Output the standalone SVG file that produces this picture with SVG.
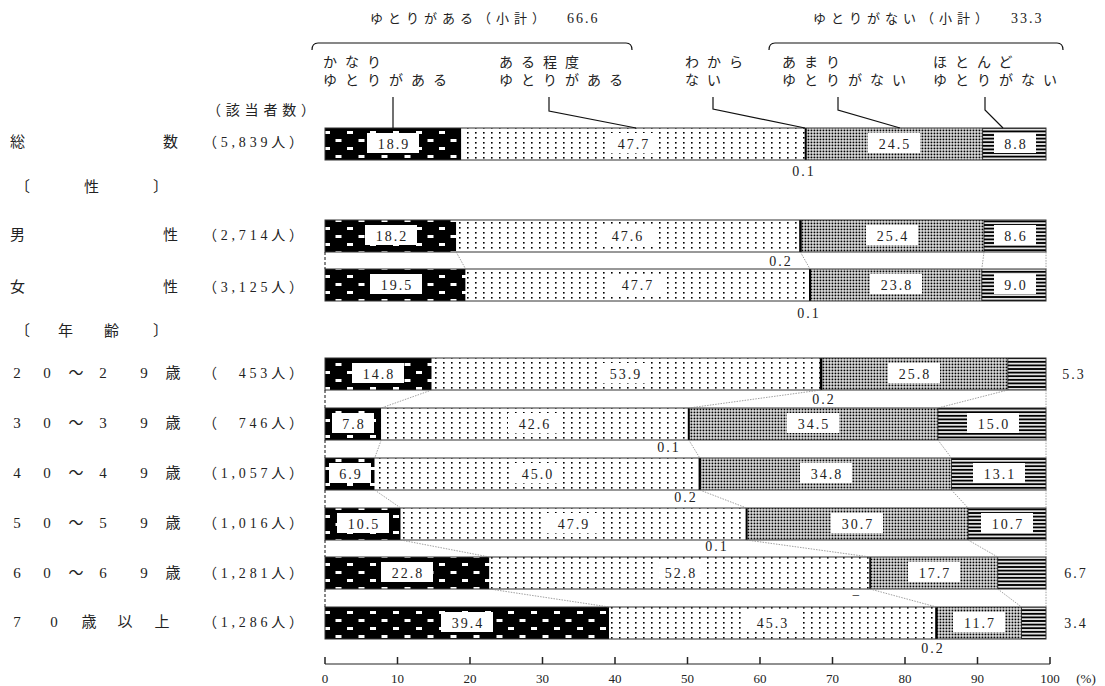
<svg xmlns="http://www.w3.org/2000/svg" width="1105" height="686" viewBox="0 0 1105 686">
<defs>
<pattern id="p1" width="23" height="16" patternUnits="userSpaceOnUse"><rect width="23" height="16" fill="#000"/><rect x="2" y="3" width="6" height="3" fill="#fff"/><rect x="13.5" y="11" width="6" height="3" fill="#fff"/></pattern>
<pattern id="p2" width="8" height="5" patternUnits="userSpaceOnUse"><rect width="8" height="5" fill="#fff"/><rect x="3" y="2" width="1.6" height="1.6" fill="#000"/></pattern>
<pattern id="p3" width="3" height="3" patternUnits="userSpaceOnUse"><rect width="3" height="3" fill="#fff"/><rect x="0.5" y="0.5" width="1.9" height="1.9" fill="#000"/></pattern>
<pattern id="p4" width="4" height="3.6" patternUnits="userSpaceOnUse"><rect width="4" height="3.6" fill="#fff"/><rect y="0.8" width="4" height="2" fill="#000"/></pattern>
</defs>
<style>
.jp{font-family:"Noto Sans CJK JP",sans-serif;font-size:14px;fill:#222}
.lb{font-family:"Noto Sans CJK JP",sans-serif;font-size:14px;letter-spacing:8px;fill:#222}
.hd{font-family:"Noto Sans CJK JP",sans-serif;font-size:13px;letter-spacing:5px;fill:#222}
.hn{font-family:"Liberation Serif",serif;font-size:14px;letter-spacing:2px}
.rl{font-family:"Liberation Serif","Noto Sans CJK JP",serif;font-size:15px;fill:#222;text-anchor:middle}
.cnt{font-family:"Liberation Serif","Noto Sans CJK JP",serif;font-size:14px;fill:#222}
.v{font-family:"Liberation Serif","Noto Sans CJK JP",serif;font-size:14px;letter-spacing:2px;fill:#222;text-anchor:middle}
.ax{font-family:"Liberation Serif",serif;font-size:13px;fill:#222;text-anchor:middle}
.box{fill:#fff}
.ol{fill:none;stroke:#333;stroke-width:1}
.sep{stroke:#111;stroke-width:0.8}
.cg{stroke:#888;stroke-width:0.8;stroke-dasharray:1.5 1.2;fill:none}
.cl{stroke:#111;stroke-width:1;stroke-dasharray:3 2;fill:none}
.ld{stroke:#111;stroke-width:1.2;fill:none}
</style>
<rect width="1105" height="686" fill="#fff"/>

<g id="header">
<text class="hd" x="370" y="23">ゆとりがある（小計）<tspan class="hn" x="567">66.6</tspan></text>
<text class="hd" x="813" y="23">ゆとりがない（小計）<tspan class="hn" x="1011">33.3</tspan></text>
<path class="ld" d="M312,50 Q312,43 318,43 L626,43 Q632,43 632,50"/>
<path class="ld" d="M769,50 Q769,43 775,43 L1057,43 Q1063,43 1063,50"/>
</g>
<g id="legend-labels">
<text class="lb" x="323" y="67">かなり</text>
<text class="lb" x="323" y="85">ゆとりがある</text>
<text class="lb" x="499" y="67">ある程度</text>
<text class="lb" x="499" y="85">ゆとりがある</text>
<text class="lb" x="685" y="67">わから</text>
<text class="lb" x="685" y="85">ない</text>
<text class="lb" x="782" y="67">あまり</text>
<text class="lb" x="782" y="85">ゆとりがない</text>
<text class="lb" x="933" y="67">ほとんど</text>
<text class="lb" x="933" y="85">ゆとりがない</text>
</g>

<g id="row-labels">
<text class="jp" x="207" y="115" textLength="108" lengthAdjust="spacing">（該当者数）</text>
<text class="jp" x="10" y="147" style="font-size:15px">総</text>
<text class="jp" x="163" y="147" style="font-size:15px">数</text>
<text class="cnt" x="203" y="147" textLength="100" lengthAdjust="spacing">（5,839人）</text>
<text class="jp" x="15" y="192" style="font-size:15px">〔</text>
<text class="jp" x="84" y="192" style="font-size:15px">性</text>
<text class="jp" x="153" y="192" style="font-size:15px">〕</text>
<text class="jp" x="10" y="240" style="font-size:15px">男</text>
<text class="jp" x="163" y="240" style="font-size:15px">性</text>
<text class="cnt" x="203" y="240" textLength="100" lengthAdjust="spacing">（2,714人）</text>
<text class="jp" x="10" y="292" style="font-size:15px">女</text>
<text class="jp" x="163" y="292" style="font-size:15px">性</text>
<text class="cnt" x="203" y="292" textLength="100" lengthAdjust="spacing">（3,125人）</text>
<text class="jp" x="15" y="336" style="font-size:15px">〔</text>
<text class="jp" x="58" y="336" style="font-size:15px">年</text>
<text class="jp" x="104" y="336" style="font-size:15px">齢</text>
<text class="jp" x="153" y="336" style="font-size:15px">〕</text>

<text class="rl" x="17" y="378">2</text><text class="rl" x="47" y="378">0</text><text class="rl" x="76" y="378">～</text><text class="rl" x="103" y="378">2</text><text class="rl" x="144" y="378">9</text><text class="rl" x="173" y="378">歳</text>
<text class="cnt" x="203" y="378" textLength="100" lengthAdjust="spacing">（　453人）</text>
<text class="rl" x="17" y="428">3</text><text class="rl" x="47" y="428">0</text><text class="rl" x="76" y="428">～</text><text class="rl" x="103" y="428">3</text><text class="rl" x="144" y="428">9</text><text class="rl" x="173" y="428">歳</text>
<text class="cnt" x="203" y="428" textLength="100" lengthAdjust="spacing">（　746人）</text>
<text class="rl" x="17" y="478">4</text><text class="rl" x="47" y="478">0</text><text class="rl" x="76" y="478">～</text><text class="rl" x="103" y="478">4</text><text class="rl" x="144" y="478">9</text><text class="rl" x="173" y="478">歳</text>
<text class="cnt" x="203" y="478" textLength="100" lengthAdjust="spacing">（1,057人）</text>
<text class="rl" x="17" y="528">5</text><text class="rl" x="47" y="528">0</text><text class="rl" x="76" y="528">～</text><text class="rl" x="103" y="528">5</text><text class="rl" x="144" y="528">9</text><text class="rl" x="173" y="528">歳</text>
<text class="cnt" x="203" y="528" textLength="100" lengthAdjust="spacing">（1,016人）</text>
<text class="rl" x="17" y="578">6</text><text class="rl" x="47" y="578">0</text><text class="rl" x="76" y="578">～</text><text class="rl" x="103" y="578">6</text><text class="rl" x="144" y="578">9</text><text class="rl" x="173" y="578">歳</text>
<text class="cnt" x="203" y="578" textLength="100" lengthAdjust="spacing">（1,281人）</text>
<text class="rl" x="17" y="627">7</text><text class="rl" x="54" y="627">0</text><text class="rl" x="89" y="627">歳</text><text class="rl" x="125" y="627">以</text><text class="rl" x="162" y="627">上</text>
<text class="cnt" x="203" y="627" textLength="100" lengthAdjust="spacing">（1,286人）</text>
</g>

<g id="bar-total">
<rect x="325" y="128" width="136.3" height="32" fill="url(#p1)"/>
<rect x="461.3" y="128" width="343.9" height="32" fill="url(#p2)"/>
<rect x="805.9" y="128" width="176.7" height="32" fill="url(#p3)"/>
<rect x="982.6" y="128" width="63.4" height="32" fill="url(#p4)"/>
<rect x="804.7" y="128" width="2" height="32" fill="#000"/>
<line class="sep" x1="982.6" y1="128" x2="982.6" y2="160"/>
<rect class="ol" x="325" y="128" width="721" height="32"/>
<rect class="box" x="367" y="133" width="52" height="20"/><text class="v" x="394" y="149">18.9</text>
<rect class="box" x="607" y="133" width="52" height="20"/><text class="v" x="634" y="149">47.7</text>
<rect class="box" x="868" y="133" width="52" height="20"/><text class="v" x="895" y="149">24.5</text>
<rect class="box" x="994" y="133" width="42" height="20"/><text class="v" x="1016" y="149">8.8</text>
<text class="v" x="804" y="176">0.1</text>
</g>

<g id="bar-male">
<rect x="325" y="220" width="131.2" height="32" fill="url(#p1)"/>
<rect x="456.2" y="220" width="343.2" height="32" fill="url(#p2)"/>
<rect x="800.9" y="220" width="183.1" height="32" fill="url(#p3)"/>
<rect x="984" y="220" width="62" height="32" fill="url(#p4)"/>
<rect x="799.2" y="220" width="2.5" height="32" fill="#000"/>
<line class="sep" x1="984" y1="220" x2="984" y2="252"/>
<rect class="ol" x="325" y="220" width="721" height="32"/>
<rect class="box" x="365" y="225" width="52" height="20"/><text class="v" x="392" y="241">18.2</text>
<rect class="box" x="601" y="225" width="52" height="20"/><text class="v" x="628" y="241">47.6</text>
<rect class="box" x="866" y="225" width="52" height="20"/><text class="v" x="893" y="241">25.4</text>
<rect class="box" x="994" y="225" width="42" height="20"/><text class="v" x="1016" y="241">8.6</text>
<text class="v" x="781" y="266">0.2</text>
</g>

<g id="bar-female">
<rect x="325" y="269" width="140.6" height="32" fill="url(#p1)"/>
<rect x="465.6" y="269" width="343.9" height="32" fill="url(#p2)"/>
<rect x="810.2" y="269" width="171.6" height="32" fill="url(#p3)"/>
<rect x="981.8" y="269" width="64.2" height="32" fill="url(#p4)"/>
<rect x="809" y="269" width="2" height="32" fill="#000"/>
<line class="sep" x1="981.8" y1="269" x2="981.8" y2="301"/>
<rect class="ol" x="325" y="269" width="721" height="32"/>
<rect class="box" x="370" y="274" width="52" height="20"/><text class="v" x="397" y="290">19.5</text>
<rect class="box" x="611" y="274" width="52" height="20"/><text class="v" x="638" y="290">47.7</text>
<rect class="box" x="870" y="274" width="52" height="20"/><text class="v" x="897" y="290">23.8</text>
<rect class="box" x="994" y="274" width="42" height="20"/><text class="v" x="1016" y="290">9.0</text>
<text class="v" x="809" y="318">0.1</text>
</g>

<g id="bar-20s">
<rect x="325" y="358" width="106.7" height="32" fill="url(#p1)"/>
<rect x="431.7" y="358" width="388.6" height="32" fill="url(#p2)"/>
<rect x="821.8" y="358" width="186" height="32" fill="url(#p3)"/>
<rect x="1007.8" y="358" width="38.2" height="32" fill="url(#p4)"/>
<rect x="819.8" y="358" width="2.5" height="32" fill="#000"/>
<line class="sep" x1="1007.8" y1="358" x2="1007.8" y2="390"/>
<rect class="ol" x="325" y="358" width="721" height="32"/>
<rect class="box" x="352" y="363" width="52" height="20"/><text class="v" x="379" y="379">14.8</text>
<rect class="box" x="599" y="363" width="52" height="20"/><text class="v" x="626" y="379">53.9</text>
<rect class="box" x="888" y="363" width="52" height="20"/><text class="v" x="915" y="379">25.8</text>
<text class="v" x="1074" y="379">5.3</text>
<text class="v" x="824" y="404">0.2</text>
</g>

<g id="bar-30s">
<rect x="325" y="408" width="56.2" height="32" fill="url(#p1)"/>
<rect x="381.2" y="408" width="307.2" height="32" fill="url(#p2)"/>
<rect x="689.1" y="408" width="248.8" height="32" fill="url(#p3)"/>
<rect x="937.9" y="408" width="108.1" height="32" fill="url(#p4)"/>
<rect x="687.8" y="408" width="2" height="32" fill="#000"/>
<line class="sep" x1="937.9" y1="408" x2="937.9" y2="440"/>
<rect class="ol" x="325" y="408" width="721" height="32"/>
<rect class="box" x="332" y="413" width="42" height="20"/><text class="v" x="354" y="429">7.8</text>
<rect class="box" x="508" y="413" width="52" height="20"/><text class="v" x="535" y="429">42.6</text>
<rect class="box" x="787" y="413" width="52" height="20"/><text class="v" x="814" y="429">34.5</text>
<rect class="box" x="967" y="413" width="52" height="20"/><text class="v" x="994" y="429">15.0</text>
<text class="v" x="669" y="452">0.1</text>
</g>

<g id="bar-40s">
<rect x="325" y="458" width="49.7" height="32" fill="url(#p1)"/>
<rect x="374.7" y="458" width="324.5" height="32" fill="url(#p2)"/>
<rect x="700.6" y="458" width="250.9" height="32" fill="url(#p3)"/>
<rect x="951.5" y="458" width="94.5" height="32" fill="url(#p4)"/>
<rect x="698.6" y="458" width="2.5" height="32" fill="#000"/>
<line class="sep" x1="951.5" y1="458" x2="951.5" y2="490"/>
<rect class="ol" x="325" y="458" width="721" height="32"/>
<rect class="box" x="329" y="463" width="42" height="20"/><text class="v" x="351" y="479">6.9</text>
<rect class="box" x="511" y="463" width="52" height="20"/><text class="v" x="538" y="479">45.0</text>
<rect class="box" x="800" y="463" width="52" height="20"/><text class="v" x="827" y="479">34.8</text>
<rect class="box" x="973" y="463" width="52" height="20"/><text class="v" x="1000" y="479">13.1</text>
<text class="v" x="686" y="502">0.2</text>
</g>

<g id="bar-50s">
<rect x="325" y="508" width="75.7" height="32" fill="url(#p1)"/>
<rect x="400.7" y="508" width="345.4" height="32" fill="url(#p2)"/>
<rect x="746.8" y="508" width="221.3" height="32" fill="url(#p3)"/>
<rect x="968.1" y="508" width="77.9" height="32" fill="url(#p4)"/>
<rect x="745.6" y="508" width="2" height="32" fill="#000"/>
<line class="sep" x1="968.1" y1="508" x2="968.1" y2="540"/>
<rect class="ol" x="325" y="508" width="721" height="32"/>
<rect class="box" x="337" y="513" width="52" height="20"/><text class="v" x="364" y="529">10.5</text>
<rect class="box" x="547" y="513" width="52" height="20"/><text class="v" x="574" y="529">47.9</text>
<rect class="box" x="831" y="513" width="52" height="20"/><text class="v" x="858" y="529">30.7</text>
<rect class="box" x="981" y="513" width="52" height="20"/><text class="v" x="1008" y="529">10.7</text>
<text class="v" x="717" y="551">0.1</text>
</g>

<g id="bar-60s">
<rect x="325" y="557" width="164.4" height="32" fill="url(#p1)"/>
<rect x="489.4" y="557" width="380.7" height="32" fill="url(#p2)"/>
<rect x="870.1" y="557" width="127.6" height="32" fill="url(#p3)"/>
<rect x="997.7" y="557" width="48.3" height="32" fill="url(#p4)"/>
<rect x="869.3" y="557" width="1.6" height="32" fill="#000"/>
<line class="sep" x1="997.7" y1="557" x2="997.7" y2="589"/>
<rect class="ol" x="325" y="557" width="721" height="32"/>
<rect class="box" x="381" y="562" width="52" height="20"/><text class="v" x="408" y="578">22.8</text>
<rect class="box" x="654" y="562" width="52" height="20"/><text class="v" x="681" y="578">52.8</text>
<rect class="box" x="908" y="562" width="52" height="20"/><text class="v" x="935" y="578">17.7</text>
<text class="v" x="1076" y="578">6.7</text>
<text class="v" x="857" y="600">−</text>
</g>

<g id="bar-70s">
<rect x="325" y="607" width="284.1" height="32" fill="url(#p1)"/>
<rect x="609.1" y="607" width="326.6" height="32" fill="url(#p2)"/>
<rect x="937.1" y="607" width="84.4" height="32" fill="url(#p3)"/>
<rect x="1021.5" y="607" width="24.5" height="32" fill="url(#p4)"/>
<rect x="935.2" y="607" width="2.5" height="32" fill="#000"/>
<line class="sep" x1="1021.5" y1="607" x2="1021.5" y2="639"/>
<rect class="ol" x="325" y="607" width="721" height="32"/>
<rect class="box" x="441" y="612" width="52" height="20"/><text class="v" x="468" y="628">39.4</text>
<rect class="box" x="746" y="612" width="52" height="20"/><text class="v" x="773" y="628">45.3</text>
<rect class="box" x="953" y="612" width="52" height="20"/><text class="v" x="980" y="628">11.7</text>
<text class="v" x="1076" y="628">3.4</text>
<text class="v" x="933" y="653">0.2</text>
</g>

<g id="connectors">
<line class="ld" x1="393" y1="97" x2="393" y2="128"/>
<polyline class="ld" points="549,97 549,111 636,128"/>
<polyline class="ld" points="713,97 713,109 805,128"/>
<polyline class="ld" points="838,97 838,110 900,128"/>
<polyline class="ld" points="985,97 985,110 1003,128"/>

<line class="cl" x1="325" y1="252" x2="325" y2="269"/>
<line class="cg" x1="456.2" y1="252" x2="465.6" y2="269"/>
<line class="cg" x1="800.4" y1="252" x2="810" y2="269"/>
<line class="cg" x1="984" y1="252" x2="981.8" y2="269"/>
<line class="cg" x1="1046" y1="252" x2="1046" y2="269"/>

<line class="cl" x1="325" y1="390" x2="325" y2="408"/>
<line class="cg" x1="431.7" y1="390" x2="381.2" y2="408"/>
<line class="cg" x1="821" y1="390" x2="688.8" y2="408"/>
<line class="cg" x1="1007.8" y1="390" x2="937.9" y2="408"/>
<line class="cg" x1="1046" y1="390" x2="1046" y2="408"/>

<line class="cl" x1="325" y1="440" x2="325" y2="458"/>
<line class="cg" x1="381.2" y1="440" x2="374.7" y2="458"/>
<line class="cg" x1="688.8" y1="440" x2="699.8" y2="458"/>
<line class="cg" x1="937.9" y1="440" x2="951.5" y2="458"/>
<line class="cg" x1="1046" y1="440" x2="1046" y2="458"/>

<line class="cl" x1="325" y1="490" x2="325" y2="508"/>
<line class="cg" x1="374.7" y1="490" x2="400.7" y2="508"/>
<line class="cg" x1="699.8" y1="490" x2="746.5" y2="508"/>
<line class="cg" x1="951.5" y1="490" x2="968.1" y2="508"/>
<line class="cg" x1="1046" y1="490" x2="1046" y2="508"/>

<line class="cl" x1="325" y1="540" x2="325" y2="557"/>
<line class="cg" x1="400.7" y1="540" x2="489.4" y2="557"/>
<line class="cg" x1="746.5" y1="540" x2="870" y2="557"/>
<line class="cg" x1="968.1" y1="540" x2="997.7" y2="557"/>
<line class="cg" x1="1046" y1="540" x2="1046" y2="557"/>

<line class="cl" x1="325" y1="589" x2="325" y2="607"/>
<line class="cg" x1="489.4" y1="589" x2="609.1" y2="607"/>
<line class="cg" x1="870" y1="589" x2="936.4" y2="607"/>
<line class="cg" x1="997.7" y1="589" x2="1021.5" y2="607"/>
<line class="cg" x1="1046" y1="589" x2="1046" y2="607"/>
</g>

<g id="axis">
<line x1="325" y1="664" x2="1050" y2="664" stroke="#222" stroke-width="1.2"/>
<path d="M325,657V664M397.5,657V664M470,657V664M542.5,657V664M615,657V664M687.5,657V664M760,657V664M832.5,657V664M905,657V664M977.5,657V664M1050,657V664" stroke="#222" stroke-width="1.5"/>
<text class="ax" x="325" y="683">0</text>
<text class="ax" x="397.5" y="683">10</text>
<text class="ax" x="470" y="683">20</text>
<text class="ax" x="542.5" y="683">30</text>
<text class="ax" x="615" y="683">40</text>
<text class="ax" x="687.5" y="683">50</text>
<text class="ax" x="760" y="683">60</text>
<text class="ax" x="832.5" y="683">70</text>
<text class="ax" x="905" y="683">80</text>
<text class="ax" x="977.5" y="683">90</text>
<text class="ax" x="1050" y="683">100</text>
<text class="ax" x="1086" y="683">(%)</text>
</g>
</svg>
